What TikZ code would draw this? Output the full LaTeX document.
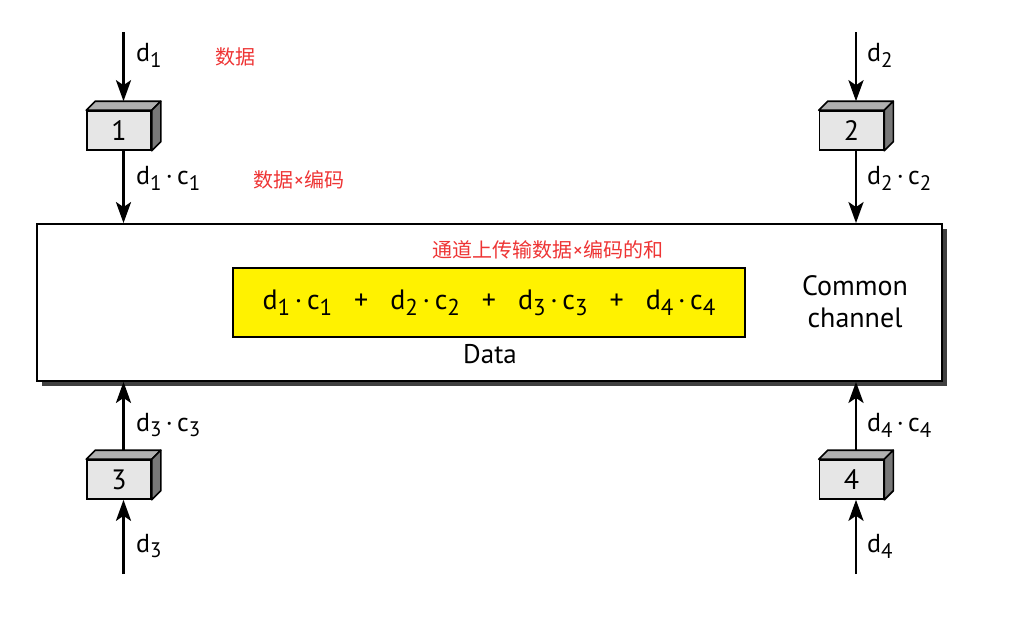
\documentclass[tikz,border=0pt]{standalone}
\usepackage{fontspec}
\setmainfont{PT Sans}
\newfontfamily\cjk{Noto Sans CJK SC}
\usetikzlibrary{arrows.meta,calc}
\definecolor{redtxt}{RGB}{238,52,52}
\definecolor{facefront}{RGB}{230,230,230}
\definecolor{facetop}{RGB}{176,176,176}
\definecolor{faceside}{RGB}{120,120,120}
\newcommand\lowsub[1]{\raisebox{-0.45ex}{\fontsize{21}{21}\selectfont #1}}
\newcommand\fsub[1]{\raisebox{-0.45ex}{\fontsize{23}{23}\selectfont #1}}
\newcommand\tms{{\fontspec{PT Sans}×}}
\begin{document}
\begin{tikzpicture}[x=1pt,y=-1pt,
  flow/.style={line width=2.8pt,-{Stealth[length=21pt,width=15pt,inset=5pt]}},
  lbl/.style={anchor=west,inner sep=0pt,font=\fontsize{26}{26}\selectfont},
  cn/.style={text=redtxt,inner sep=0pt,font=\cjk\fontsize{20}{20}\selectfont},
  cube/.style={draw,line width=1.6pt,fill=facefront,minimum width=64pt,minimum height=39pt,inner sep=0pt,font=\fontsize{28}{28}\selectfont}]
\useasboundingbox (0,0) rectangle (1017,619);
% channel
\fill[black!75] (42,229) rectangle (947,386);
\node[draw,line width=1.8pt,fill=white,minimum width=905pt,minimum height=157pt,inner sep=0pt] (chan) at (489.5,302.5) {};
\node[draw,line width=1.4pt,fill=yellow,minimum width=512pt,minimum height=69pt,inner sep=0pt,font=\fontsize{28}{28}\selectfont] (sum) at (489,302.5)
 {d\fsub{1}\,·\,c\fsub{1}\hspace{22pt}+\hspace{22pt}d\fsub{2}\,·\,c\fsub{2}\hspace{22pt}+\hspace{22pt}d\fsub{3}\,·\,c\fsub{3}\hspace{22pt}+\hspace{22pt}d\fsub{4}\,·\,c\fsub{4}};
\node[inner sep=0pt,font=\fontsize{27}{27}\selectfont] (data) at (490,354) {Data};
\node[inner sep=0pt,align=center,font=\fontsize{28}{32}\selectfont] (common) at (855,302) {Common\\channel};
\node[cn] (title) at (548,250) {通道上传输数据\tms 编码的和};
% cubes
\foreach \n/\x/\y in {1/119/130.5,2/851.5/130.5,3/119/479.5,4/851.5/479.5}{
  \node[cube] (b\n) at (\x,\y) {\n};
  \fill[facetop,draw=black,line width=1.6pt,line join=round] (b\n.north west) -- ++(9,-9) -- ($(b\n.north east)+(9,-9)$) -- (b\n.north east) -- cycle;
  \fill[faceside,draw=black,line width=1.6pt,line join=round] (b\n.north east) -- ++(9,-9) -- ($(b\n.south east)+(9,-9)$) -- (b\n.south east) -- cycle;
  \coordinate (t\n) at ($(b\n.north)+(4.5,-9)$);
  \coordinate (u\n) at ($(b\n.south)+(4.5,0)$);
}
% inputs
\coordinate (in1) at (123.5,32);
\coordinate (in2) at (856,32);
\coordinate (in3) at (123.5,574);
\coordinate (in4) at (856,574);
\draw[flow] (in1) -- (t1);
\draw[flow] (u1) -- (u1 |- chan.north);
\draw[flow] (in2) -- (t2);
\draw[flow] (u2) -- (u2 |- chan.north);
\draw[flow] (in3) -- (u3);
\draw[flow] (t3) -- (t3 |- chan.south);
\draw[flow] (in4) -- (u4);
\draw[flow] (t4) -- (t4 |- chan.south);
% labels
\node[lbl] (l1) at (136,55) {d\lowsub{1}};
\node[lbl] (l1c) at (136,178) {d\lowsub{1}\,·\,c\lowsub{1}};
\node[lbl] (l2) at (867,55) {d\lowsub{2}};
\node[lbl] (l2c) at (867,178) {d\lowsub{2}\,·\,c\lowsub{2}};
\node[lbl] (l3c) at (136,425) {d\lowsub{3}\,·\,c\lowsub{3}};
\node[lbl] (l3) at (136,546) {d\lowsub{3}};
\node[lbl] (l4c) at (867,425) {d\lowsub{4}\,·\,c\lowsub{4}};
\node[lbl] (l4) at (867,546) {d\lowsub{4}};
\node[cn] (c1) at (235,57) {数据};
\node[cn] (c2) at (299,180) {数据\tms 编码};
\end{tikzpicture}
\end{document}
